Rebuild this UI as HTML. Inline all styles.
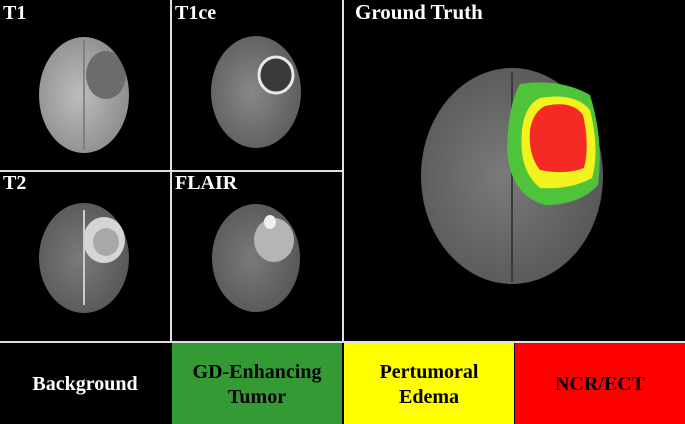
<!DOCTYPE html>
<html><head><meta charset="utf-8"><style>
html,body{margin:0;padding:0;background:#000;width:685px;height:424px;overflow:hidden}
svg{display:block}
text{font-family:"Liberation Serif",serif;font-weight:bold}
</style></head><body>
<svg width="685" height="424" viewBox="0 0 685 424">
<defs>
<radialGradient id="g1" cx="0.45" cy="0.5" r="0.6"><stop offset="0" stop-color="#bdbdbd"/><stop offset="1" stop-color="#8a8a8a"/></radialGradient>
<radialGradient id="g2" cx="0.45" cy="0.5" r="0.6"><stop offset="0" stop-color="#888"/><stop offset="1" stop-color="#5a5a5a"/></radialGradient>
<radialGradient id="g3" cx="0.45" cy="0.5" r="0.6"><stop offset="0" stop-color="#7a7a7a"/><stop offset="1" stop-color="#555"/></radialGradient>
<clipPath id="c1"><ellipse cx="84" cy="95" rx="45" ry="58"/></clipPath>
</defs>
<rect width="685" height="424" fill="#000"/>
<g>
<ellipse cx="84" cy="95" rx="45" ry="58" fill="url(#g1)"/>
<ellipse cx="106" cy="75" rx="20" ry="24" fill="#6c6c6c" clip-path="url(#c1)"/>
<line x1="84" y1="40" x2="84" y2="150" stroke="#777" stroke-width="1.5"/>
<text x="3" y="19" fill="#fff" font-size="20">T1</text>
</g>
<g>
<ellipse cx="256" cy="92" rx="45" ry="56" fill="url(#g2)"/>
<ellipse cx="276" cy="75" rx="17" ry="18" fill="#3a3a3a" stroke="#e8e8e8" stroke-width="3"/>
<text x="175" y="19" fill="#fff" font-size="20">T1ce</text>
</g>
<g>
<ellipse cx="84" cy="258" rx="45" ry="55" fill="url(#g3)"/>
<ellipse cx="104" cy="240" rx="21" ry="23" fill="#d5d5d5"/>
<ellipse cx="106" cy="242" rx="13" ry="14" fill="#a8a8a8"/>
<line x1="84" y1="210" x2="84" y2="305" stroke="#ccc" stroke-width="2"/>
<text x="3" y="189" fill="#fff" font-size="20">T2</text>
</g>
<g>
<ellipse cx="256" cy="258" rx="44" ry="54" fill="url(#g3)"/>
<ellipse cx="274" cy="240" rx="20" ry="22" fill="#b5b5b5"/>
<ellipse cx="270" cy="222" rx="6" ry="7" fill="#eee"/>
<text x="175" y="189" fill="#fff" font-size="20">FLAIR</text>
</g>
<g>
<ellipse cx="512" cy="176" rx="91" ry="108" fill="url(#g3)"/>
<line x1="512" y1="72" x2="512" y2="282" stroke="#3a3a3a" stroke-width="2"/>
<path d="M520,84 Q560,78 590,95 Q604,140 598,185 Q580,205 545,205 Q510,195 507,150 Q508,105 520,84 Z" fill="#4fc43a"/>
<path d="M540,98 Q575,92 590,110 Q600,150 592,178 Q570,190 540,188 Q518,170 522,130 Q525,105 540,98 Z" fill="#f2f21e"/>
<path d="M545,106 Q572,100 583,115 Q590,145 584,168 Q565,175 540,170 Q528,155 530,130 Q533,112 545,106 Z" fill="#f42a25"/>
<text x="355" y="19" fill="#fff" font-size="21">Ground Truth</text>
</g>
<g stroke="#e0e0e0" stroke-width="2">
<line x1="171" y1="0" x2="171" y2="343"/>
<line x1="343" y1="0" x2="343" y2="343"/>
<line x1="0" y1="171" x2="343" y2="171"/>
<line x1="0" y1="342" x2="685" y2="342"/>
</g>
<g>
<rect x="0" y="343" width="171" height="81" fill="#000"/>
<text x="85" y="390" fill="#fff" font-size="20" text-anchor="middle">Background</text>
<rect x="172" y="343" width="170" height="81" fill="#349a34"/>
<text x="257" y="378" fill="#000" font-size="20" text-anchor="middle">GD-Enhancing</text>
<text x="257" y="403" fill="#000" font-size="20" text-anchor="middle">Tumor</text>
<rect x="344" y="343" width="170" height="81" fill="#ffff00"/>
<text x="429" y="378" fill="#000" font-size="20" text-anchor="middle">Pertumoral</text>
<text x="429" y="403" fill="#000" font-size="20" text-anchor="middle">Edema</text>
<rect x="515" y="343" width="170" height="81" fill="#ff0000"/>
<text x="600" y="390" fill="#000" font-size="20" text-anchor="middle">NCR/ECT</text>
</g>
</svg>
</body></html>
